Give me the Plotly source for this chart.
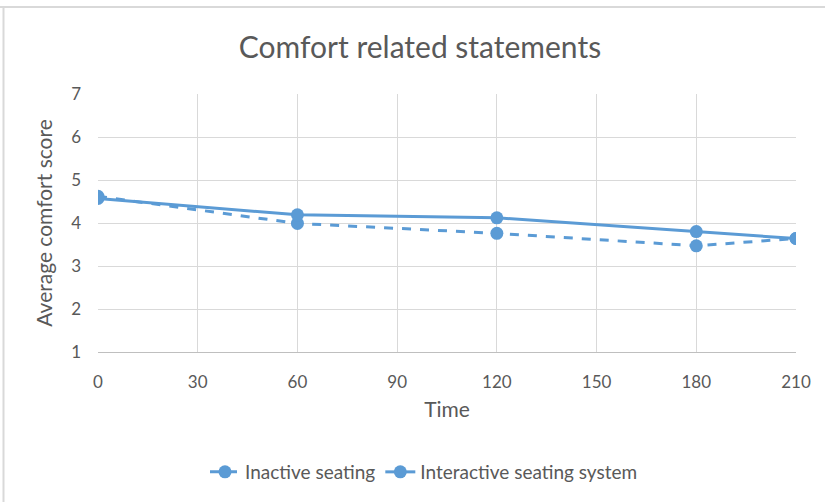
import plotly.graph_objects as go

time = [0, 60, 120, 180, 210]
inactive = [4.62, 3.99, 3.76, 3.47, 3.64]
interactive = [4.57, 4.19, 4.12, 3.80, 3.64]
x_ticks = [0, 30, 60, 90, 120, 150, 180, 210]
y_ticks = [1, 2, 3, 4, 5, 6, 7]

color = "#5b9bd5"
font_family = "Lato, Open Sans, sans-serif"
text_color = "#595959"

fig = go.Figure()
fig.add_trace(go.Scatter(x=time, y=inactive, name="Inactive seating", mode="lines+markers",
                         line=dict(color=color, width=3, dash="dash"),
                         marker=dict(color=color, size=13)))
fig.add_trace(go.Scatter(x=time, y=interactive, name="Interactive seating system", mode="lines+markers",
                         line=dict(color=color, width=3),
                         marker=dict(color=color, size=13)))

ml, mr, mt, mb = 98, 29, 94, 150
W, H = 825, 502
pw, ph = W - ml - mr, H - mt - mb

fig.update_layout(
    width=W, height=H,
    margin=dict(l=ml, r=mr, t=mt, b=mb, autoexpand=False),
    paper_bgcolor="white", plot_bgcolor="white",
    font=dict(family=font_family, color=text_color, size=17),
    title=dict(text="Comfort related statements", x=420 / W, xanchor="center", xref="container",
               y=1 - 47 / H, yanchor="middle", yref="container",
               font=dict(size=30, color=text_color, family=font_family)),
    xaxis=dict(range=[0, 210], tickvals=x_ticks, showgrid=True, gridcolor="#d9d9d9", gridwidth=1,
               showline=True, linecolor="#bfbfbf", linewidth=1, zeroline=False,
               ticks="", ticklabelstandoff=15, automargin=False,
               tickfont=dict(size=17),
               title=dict(text="Time", standoff=10, font=dict(size=21))),
    yaxis=dict(range=[1, 7], tickvals=y_ticks, showgrid=True, gridcolor="#d9d9d9", gridwidth=1,
               showline=False, zeroline=False, ticks="", ticklabelstandoff=16, automargin=False,
               tickfont=dict(size=17),
               title=dict(text="Average comfort score", standoff=12, font=dict(size=21))),
    legend=dict(orientation="h", x=424 / W, xanchor="center", xref="container",
                y=-(472 - 352) / ph, yanchor="middle",
                font=dict(size=19, color=text_color)),
    showlegend=True,
)

# chart area frame (only top and left edges visible in reference)
fig.add_shape(type="line", xref="paper", yref="paper",
              x0=(0 - ml) / pw, x1=(W - ml) / pw, y0=(H - mb - 7) / ph, y1=(H - mb - 7) / ph,
              line=dict(color="#d9d9d9", width=2), layer="below")
fig.add_shape(type="line", xref="paper", yref="paper",
              x0=(3.5 - ml) / pw, x1=(3.5 - ml) / pw, y0=(H - mb - 7) / ph, y1=(H - mb - H) / ph,
              line=dict(color="#d9d9d9", width=2), layer="below")

fig.write_html("out.html", config={"displayModeBar": False},
               post_script="document.body.style.margin='0';")
